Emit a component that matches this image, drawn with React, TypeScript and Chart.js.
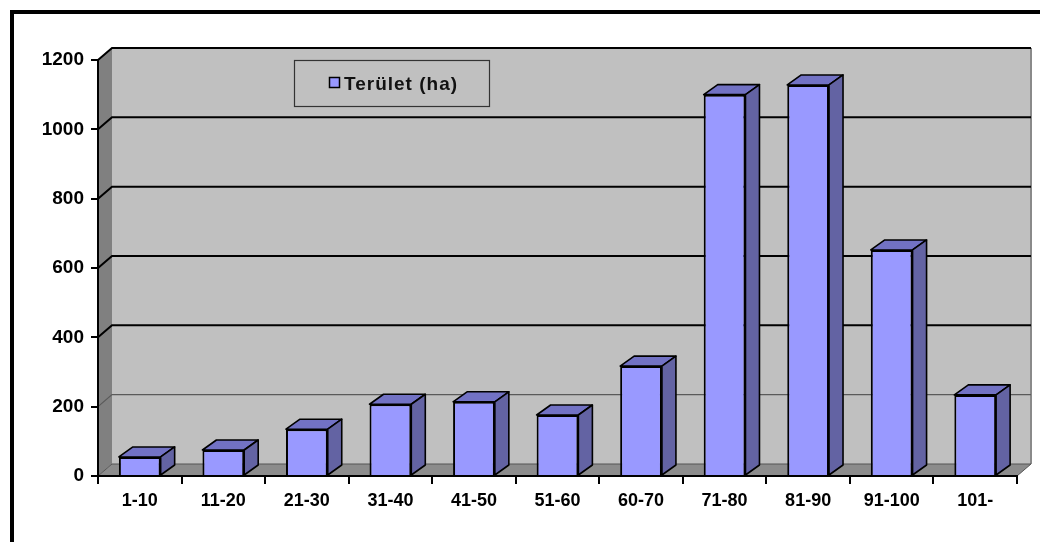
import { useEffect, useRef } from 'react';
import { Chart, registerables } from 'chart.js';

Chart.register(...registerables);

const categories = ['1-10', '11-20', '21-30', '31-40', '41-50', '51-60', '60-70', '71-80', '81-90', '91-100', '101-'];
const areaValues = [55, 75, 135, 207, 214, 176, 317, 1100, 1128, 652, 234];
const seriesLabel = 'Terület (ha)';
const yMin = 0;
const yMax = 1200;
const yStep = 200;

const DX = 14;
const DY = -12;
const BDX = 14;
const BDY = -10;
const FONT = '"Liberation Sans", Arial, sans-serif';

function poly(ctx: CanvasRenderingContext2D, pts: number[][], fill: string | null, stroke?: string, lw?: number) {
  ctx.beginPath();
  ctx.moveTo(pts[0][0], pts[0][1]);
  for (let i = 1; i < pts.length; i++) ctx.lineTo(pts[i][0], pts[i][1]);
  ctx.closePath();
  if (fill) {
    ctx.fillStyle = fill;
    ctx.fill();
  }
  if (stroke) {
    ctx.strokeStyle = stroke;
    ctx.lineWidth = lw || 1;
    ctx.lineJoin = 'round';
    ctx.stroke();
  }
}

const wallPlugin = {
  id: 'wall3d',
  beforeDraw(chart: any) {
    const { ctx, chartArea: a, scales } = chart;
    const ys = scales.y;
    ctx.save();
    ctx.fillStyle = '#ffffff';
    ctx.fillRect(0, 0, chart.width, chart.height);
    // outer frame
    ctx.fillStyle = '#000';
    ctx.fillRect(10, 10, 4, chart.height);
    ctx.fillRect(10, 10, chart.width, 4);
    // back wall
    ctx.fillStyle = '#c0c0c0';
    ctx.fillRect(a.left + DX, a.top + DY, a.right - a.left, a.bottom - a.top);
    // right edge of wall
    ctx.strokeStyle = '#8a8a8a';
    ctx.lineWidth = 2;
    ctx.beginPath();
    ctx.moveTo(a.right + DX, a.top + DY);
    ctx.lineTo(a.right + DX, a.bottom + DY);
    ctx.stroke();
    // left wall
    poly(ctx, [[a.left, a.top], [a.left + DX, a.top + DY], [a.left + DX, a.bottom + DY], [a.left, a.bottom]], '#808080');
    // floor
    poly(ctx, [[a.left, a.bottom], [a.right, a.bottom], [a.right + DX, a.bottom + DY], [a.left + DX, a.bottom + DY]], '#8c8c8c');
    ctx.strokeStyle = '#555';
    ctx.lineWidth = 1;
    ctx.beginPath();
    ctx.moveTo(a.left, a.bottom);
    ctx.lineTo(a.left + DX, a.bottom + DY);
    ctx.lineTo(a.right + DX, a.bottom + DY);
    ctx.lineTo(a.right, a.bottom);
    ctx.stroke();
    // gridlines
    for (let v = yMin + yStep; v <= yMax; v += yStep) {
      const py = ys.getPixelForValue(v);
      const light = v === 200;
      ctx.strokeStyle = light ? '#5a5a5a' : '#000';
      ctx.lineWidth = light ? 1.2 : 2;
      ctx.beginPath();
      ctx.moveTo(a.left, py);
      ctx.lineTo(a.left + DX, py + DY);
      ctx.lineTo(a.right + DX, py + DY);
      ctx.stroke();
    }
    ctx.restore();
  },
  afterDatasetsDraw(chart: any) {
    const { ctx } = chart;
    const meta = chart.getDatasetMeta(0);
    ctx.save();
    meta.data.forEach((bar: any) => {
      const { x, y, base, width } = bar.getProps(['x', 'y', 'base', 'width'], true);
      const l = x - width / 2;
      const r = x + width / 2;
      poly(ctx, [[l, y], [l + BDX, y + BDY], [r + BDX, y + BDY], [r, y]], '#7272c4', '#000', 1.6);
      poly(ctx, [[r, y], [r + BDX, y + BDY], [r + BDX, base + BDY], [r, base]], '#6363a3', '#000', 1.6);
    });
    ctx.restore();
  },
  afterDraw(chart: any) {
    const { ctx } = chart;
    ctx.save();
    // legend box
    ctx.fillStyle = '#c0c0c0';
    ctx.fillRect(294, 60, 196, 47);
    ctx.strokeStyle = '#333';
    ctx.lineWidth = 1.2;
    ctx.strokeRect(294.5, 60.5, 195, 46);
    ctx.fillStyle = '#9999ff';
    ctx.fillRect(329, 77, 11, 11);
    ctx.strokeStyle = '#000';
    ctx.lineWidth = 1.5;
    ctx.strokeRect(329.5, 77.5, 10, 10);
    ctx.fillStyle = '#111';
    ctx.font = 'bold 19px ' + FONT;
    try { (ctx as any).letterSpacing = '1px'; } catch (e) {}
    ctx.textBaseline = 'alphabetic';
    ctx.textAlign = 'left';
    ctx.fillText(seriesLabel, 344, 90);
    try { (ctx as any).letterSpacing = '0px'; } catch (e) {}
    ctx.restore();
  },
};

export default function App() {
  const ref = useRef<HTMLCanvasElement | null>(null);
  useEffect(() => {
    if (!ref.current) return;
    const chart = new Chart(ref.current, {
      type: 'bar',
      data: {
        labels: categories,
        datasets: [
          {
            label: seriesLabel,
            data: areaValues,
            backgroundColor: '#9999ff',
            borderColor: '#000',
            borderWidth: 2,
            categoryPercentage: 1,
            barPercentage: 0.5,
          },
        ],
      },
      options: {
        animation: false,
        responsive: true,
        maintainAspectRatio: false,
        layout: { padding: { left: 0, top: 60, right: 23, bottom: 0 } },
        plugins: { legend: { display: false }, tooltip: { enabled: false } },
        scales: {
          x: {
            offset: true,
            grid: { offset: true, drawOnChartArea: false, drawTicks: true, tickLength: 8, color: '#000', lineWidth: 2 },
            border: { display: true, color: '#000', width: 2 },
            ticks: { color: '#000', font: { family: FONT, size: 18, weight: 'bold' }, padding: 6, maxRotation: 0, autoSkip: false },
            afterFit: (s: any) => { s.height = 66; },
          },
          y: {
            min: yMin,
            max: yMax,
            grid: { drawOnChartArea: false, drawTicks: true, tickLength: 7, color: '#000', lineWidth: 2 },
            border: { display: true, color: '#000', width: 2 },
            ticks: {
              stepSize: yStep,
              color: '#000',
              font: { family: FONT, size: 19, weight: 'bold' },
              padding: 7,
              callback: (v: any) => String(v),
            },
            afterFit: (s: any) => { s.width = 98; },
          },
        },
      },
      plugins: [wallPlugin],
    });
    return () => chart.destroy();
  }, []);
  return (
    <div style={{ position: 'fixed', left: 0, top: 0, width: 1040, height: 542, background: '#fff' }}>
      <canvas ref={ref} />
    </div>
  );
}
